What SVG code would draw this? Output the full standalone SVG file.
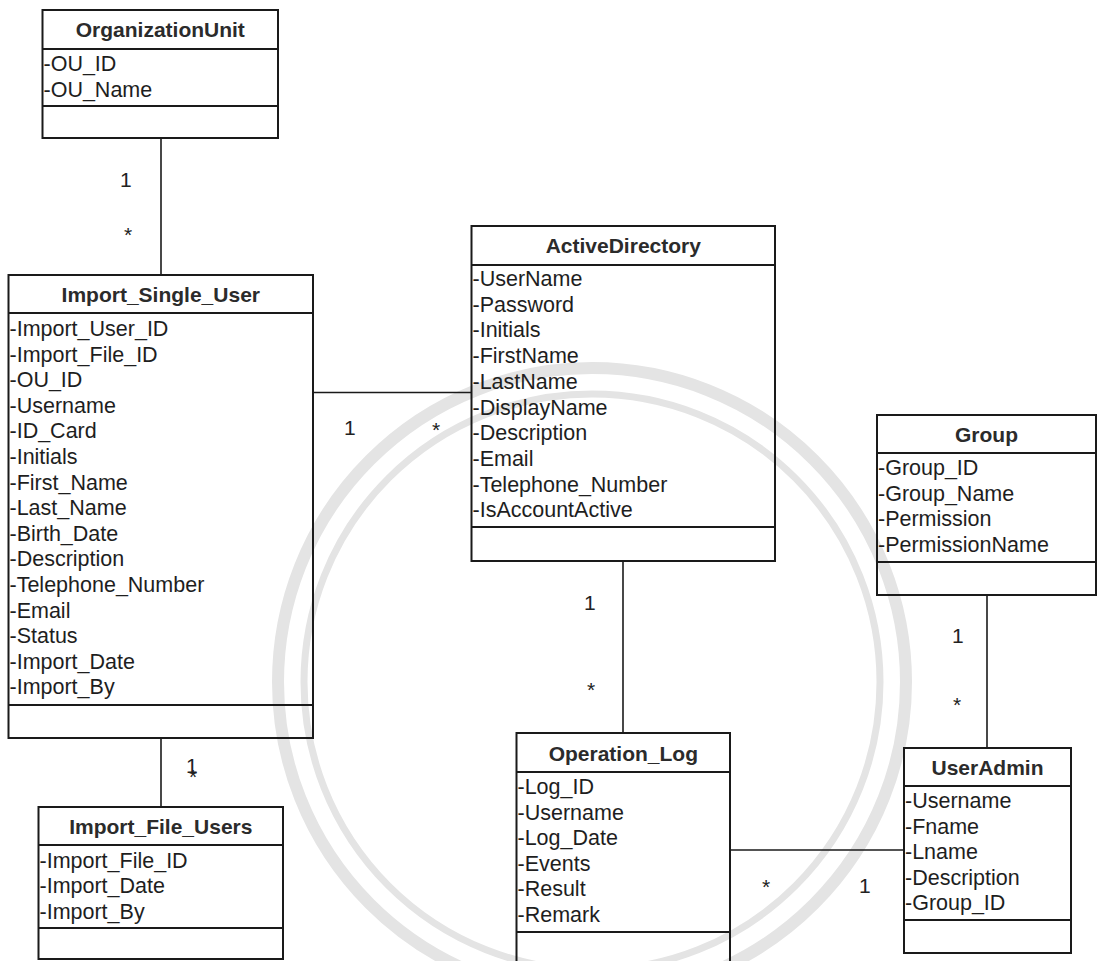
<svg xmlns="http://www.w3.org/2000/svg" width="1097" height="961" viewBox="0 0 1097 961">
<style>
.box{fill:none;stroke:#1a1a1a;stroke-width:2}
.sep{stroke:#1a1a1a;stroke-width:2}
.title{font-family:"Liberation Sans",Arial,sans-serif;font-size:21px;font-weight:bold;fill:#2b2b2b;text-anchor:middle}
.attr{font-family:"Liberation Sans",Arial,sans-serif;font-size:21.5px;fill:#1e1e1e}
.conn{stroke:#1a1a1a;stroke-width:1.6;fill:none}
.mult{font-family:"Liberation Sans",Arial,sans-serif;font-size:21px;fill:#222}
.wm{fill:none;stroke:#e4e4e4}
</style>
<rect width="1097" height="961" fill="#ffffff"/>
<g id="watermark">
<circle class="wm" cx="592" cy="682" r="314" stroke-width="12"/>
<circle class="wm" cx="592" cy="682" r="288" stroke-width="7"/>
</g>
<g id="connectors">
<line class="conn" x1="161" y1="138" x2="161" y2="275"/>
<line class="conn" x1="313" y1="392.5" x2="471.5" y2="392.5"/>
<line class="conn" x1="623" y1="561" x2="623" y2="733"/>
<line class="conn" x1="987" y1="595" x2="987" y2="748"/>
<line class="conn" x1="730" y1="850" x2="904" y2="850"/>
<line class="conn" x1="161" y1="738" x2="161" y2="807"/>
<text class="mult" x="120" y="187">1</text>
<text class="mult" x="124" y="242">*</text>
<text class="mult" x="344" y="435">1</text>
<text class="mult" x="432" y="437">*</text>
<text class="mult" x="186" y="773">1</text>
<text class="mult" x="189" y="784">*</text>
<text class="mult" x="584" y="610">1</text>
<text class="mult" x="587" y="697">*</text>
<text class="mult" x="952" y="643">1</text>
<text class="mult" x="953" y="712">*</text>
<text class="mult" x="762" y="894">*</text>
<text class="mult" x="859" y="893">1</text>
</g>
<g id="OrganizationUnit">
<rect class="box" x="42.5" y="10" width="235.5" height="128"/>
<line class="sep" x1="42.5" y1="49" x2="278" y2="49"/>
<line class="sep" x1="42.5" y1="106" x2="278" y2="106"/>
<text class="title" x="160.3" y="37">OrganizationUnit</text>
<text class="attr" x="43.5" y="71">-OU_ID</text>
<text class="attr" x="43.5" y="97">-OU_Name</text>
</g>
<g id="Import_Single_User">
<rect class="box" x="8.5" y="275" width="304.5" height="463"/>
<line class="sep" x1="8.5" y1="313" x2="313" y2="313"/>
<line class="sep" x1="8.5" y1="705" x2="313" y2="705"/>
<text class="title" x="160.8" y="301.5">Import_Single_User</text>
<text class="attr" x="9.5" y="336">-Import_User_ID</text>
<text class="attr" x="9.5" y="361.6">-Import_File_ID</text>
<text class="attr" x="9.5" y="387.2">-OU_ID</text>
<text class="attr" x="9.5" y="412.8">-Username</text>
<text class="attr" x="9.5" y="438.4">-ID_Card</text>
<text class="attr" x="9.5" y="464">-Initials</text>
<text class="attr" x="9.5" y="489.6">-First_Name</text>
<text class="attr" x="9.5" y="515.2">-Last_Name</text>
<text class="attr" x="9.5" y="540.8">-Birth_Date</text>
<text class="attr" x="9.5" y="566.4">-Description</text>
<text class="attr" x="9.5" y="592">-Telephone_Number</text>
<text class="attr" x="9.5" y="617.6">-Email</text>
<text class="attr" x="9.5" y="643.2">-Status</text>
<text class="attr" x="9.5" y="668.8">-Import_Date</text>
<text class="attr" x="9.5" y="694.4">-Import_By</text>
</g>
<g id="ActiveDirectory">
<rect class="box" x="471.5" y="226" width="303.5" height="335"/>
<line class="sep" x1="471.5" y1="265" x2="775" y2="265"/>
<line class="sep" x1="471.5" y1="527" x2="775" y2="527"/>
<text class="title" x="623.3" y="253">ActiveDirectory</text>
<text class="attr" x="472.5" y="286">-UserName</text>
<text class="attr" x="472.5" y="311.7">-Password</text>
<text class="attr" x="472.5" y="337.4">-Initials</text>
<text class="attr" x="472.5" y="363.1">-FirstName</text>
<text class="attr" x="472.5" y="388.8">-LastName</text>
<text class="attr" x="472.5" y="414.5">-DisplayName</text>
<text class="attr" x="472.5" y="440.2">-Description</text>
<text class="attr" x="472.5" y="465.9">-Email</text>
<text class="attr" x="472.5" y="491.6">-Telephone_Number</text>
<text class="attr" x="472.5" y="517.3">-IsAccountActive</text>
</g>
<g id="Group">
<rect class="box" x="877" y="415" width="219" height="180"/>
<line class="sep" x1="877" y1="453" x2="1096" y2="453"/>
<line class="sep" x1="877" y1="562" x2="1096" y2="562"/>
<text class="title" x="986.5" y="441.5">Group</text>
<text class="attr" x="878" y="475">-Group_ID</text>
<text class="attr" x="878" y="500.6">-Group_Name</text>
<text class="attr" x="878" y="526.2">-Permission</text>
<text class="attr" x="878" y="551.8">-PermissionName</text>
</g>
<g id="UserAdmin">
<rect class="box" x="904" y="748" width="167" height="205"/>
<line class="sep" x1="904" y1="786" x2="1071" y2="786"/>
<line class="sep" x1="904" y1="920" x2="1071" y2="920"/>
<text class="title" x="987.5" y="774.5">UserAdmin</text>
<text class="attr" x="905" y="808">-Username</text>
<text class="attr" x="905" y="833.6">-Fname</text>
<text class="attr" x="905" y="859.2">-Lname</text>
<text class="attr" x="905" y="884.8">-Description</text>
<text class="attr" x="905" y="910.4">-Group_ID</text>
</g>
<g id="Operation_Log">
<rect class="box" x="516.5" y="733" width="213.5" height="240"/>
<line class="sep" x1="516.5" y1="772" x2="730" y2="772"/>
<line class="sep" x1="516.5" y1="932" x2="730" y2="932"/>
<text class="title" x="623.3" y="760.5">Operation_Log</text>
<text class="attr" x="517.5" y="794">-Log_ID</text>
<text class="attr" x="517.5" y="819.6">-Username</text>
<text class="attr" x="517.5" y="845.2">-Log_Date</text>
<text class="attr" x="517.5" y="870.8">-Events</text>
<text class="attr" x="517.5" y="896.4">-Result</text>
<text class="attr" x="517.5" y="922">-Remark</text>
</g>
<g id="Import_File_Users">
<rect class="box" x="38.5" y="807" width="244.5" height="152"/>
<line class="sep" x1="38.5" y1="845" x2="283" y2="845"/>
<line class="sep" x1="38.5" y1="928" x2="283" y2="928"/>
<text class="title" x="160.8" y="833.5">Import_File_Users</text>
<text class="attr" x="39.5" y="867.5">-Import_File_ID</text>
<text class="attr" x="39.5" y="893">-Import_Date</text>
<text class="attr" x="39.5" y="918.6">-Import_By</text>
</g>
</svg>
